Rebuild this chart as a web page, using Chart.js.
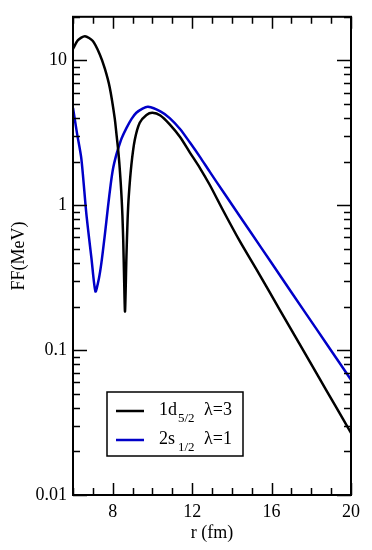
<!DOCTYPE html>
<html>
<head>
<meta charset="utf-8">
<script src="https://cdn.jsdelivr.net/npm/chart.js@4.4.1/dist/chart.umd.min.js"></script>
<style>
  html, body { margin: 0; padding: 0; background: #fff; }
  #wrap { width: 372px; height: 550px; }
</style>
</head>
<body>
<div id="wrap"><canvas id="ffChart" width="372" height="550"></canvas></div>
<script>
// r (fm) and FF (MeV)
const rD52 = [6.0, 6.25, 6.6, 7.0, 7.35, 7.6, 7.85, 8.1, 8.2, 8.27, 8.33, 8.4, 8.45, 8.49, 8.53, 8.57, 8.62, 8.69, 8.75, 8.81, 8.94, 9.11, 9.36, 9.7, 10.0, 10.4, 10.87, 11.4, 11.88, 12.4, 12.89, 13.56, 14.4, 15.37, 16.42, 17.4, 18.39, 19.2, 20.0];
const ffD52 = [12.0, 13.8, 14.7, 13.6, 11.0, 8.8, 6.5, 4.0, 3.0, 2.45, 1.98, 1.45, 1.11, 0.84, 0.57, 0.33, 0.185, 0.44, 0.80, 1.16, 1.9, 2.82, 3.71, 4.2, 4.35, 4.17, 3.62, 2.95, 2.32, 1.80, 1.38, 0.92, 0.565, 0.336, 0.189, 0.111, 0.0646, 0.0415, 0.0268];

const rS12 = [6.0, 6.2, 6.42, 6.67, 6.93, 7.13, 7.3, 7.43, 7.6, 7.76, 7.9, 8.02, 8.15, 8.27, 8.45, 8.69, 8.95, 9.19, 9.5, 9.78, 10.4, 10.87, 11.4, 11.88, 12.4, 12.89, 13.6, 14.4, 15.5, 16.47, 17.68, 18.8, 20.0];
const ffS12 = [4.7, 3.15, 2.1, 0.88, 0.43, 0.254, 0.31, 0.40, 0.62, 0.97, 1.4, 1.8, 2.15, 2.45, 2.9, 3.41, 3.95, 4.35, 4.65, 4.78, 4.45, 4.0, 3.35, 2.72, 2.15, 1.70, 1.22, 0.84, 0.504, 0.321, 0.183, 0.109, 0.0624];

const seriesNames = ["1d", "2s"];
const seriesSubs = ["5/2", "1/2"];
const seriesLambda = ["λ=3", "λ=1"];
const seriesColors = ["#000000", "#0000c8"];

const xLabels = [8, 12, 16, 20];
const yLabels = [0.01, 0.1, 1, 10];

const serif = "'Liberation Serif', 'Times New Roman', serif";

function toPoints(xs, ys) {
    return xs.map((x, i) => ({ x: x, y: ys[i] }));
}

// inward tick marks on all four sides + frame
const frameTicks = {
    id: "frameTicks",
    afterDatasetsDraw(chart) {
        const { ctx, chartArea: a, scales: { x, y } } = chart;
        ctx.save();
        ctx.strokeStyle = "#000";
        ctx.lineWidth = 1.5;
        ctx.beginPath();
        for (let v = x.min; v <= x.max; v++) {
            const px = Math.round(x.getPixelForValue(v)) + 0.5;
            const len = xLabels.includes(v) ? 12 : 7;
            ctx.moveTo(px, a.bottom); ctx.lineTo(px, a.bottom - len);
            ctx.moveTo(px, a.top); ctx.lineTo(px, a.top + len);
        }
        yLabels.forEach(d => {
            for (let k = 1; k <= 9; k++) {
                const v = k * d;
                if (v > y.max * 1.0001) break;
                const py = Math.round(y.getPixelForValue(v)) + 0.5;
                const len = k === 1 ? 14 : 7;
                ctx.moveTo(a.left, py); ctx.lineTo(a.left + len, py);
                ctx.moveTo(a.right, py); ctx.lineTo(a.right - len, py);
            }
        });
        ctx.stroke();
        ctx.lineWidth = 2;
        ctx.strokeRect(a.left, a.top, a.right - a.left, a.bottom - a.top);
        ctx.restore();
    }
};

// legend box with subscripts
const subLegend = {
    id: "subLegend",
    afterDraw(chart) {
        const { ctx, chartArea: a } = chart;
        const left = a.left + 34, top = a.bottom - 103, w = 136, h = 64;
        ctx.save();
        ctx.fillStyle = "#fff";
        ctx.fillRect(left, top, w, h);
        ctx.strokeStyle = "#000";
        ctx.lineWidth = 1.5;
        ctx.strokeRect(left, top, w, h);
        chart.data.datasets.forEach((ds, i) => {
            const rowY = top + 19 + i * 29;
            ctx.strokeStyle = ds.borderColor;
            ctx.lineWidth = 2.5;
            ctx.beginPath();
            ctx.moveTo(left + 9, rowY);
            ctx.lineTo(left + 37, rowY);
            ctx.stroke();
            ctx.fillStyle = "#000";
            ctx.textBaseline = "alphabetic";
            ctx.font = "18px " + serif;
            ctx.fillText(seriesNames[i], left + 52, rowY + 4);
            ctx.font = "13px " + serif;
            ctx.fillText(seriesSubs[i], left + 71, rowY + 10.5);
            ctx.font = "18px " + serif;
            ctx.fillText(seriesLambda[i], left + 97, rowY + 4);
        });
        ctx.restore();
    }
};

new Chart(document.getElementById("ffChart"), {
    type: "line",
    data: {
        datasets: [
            {
                label: "1d5/2 λ=3",
                data: toPoints(rD52, ffD52),
                borderColor: seriesColors[0],
                borderWidth: 2.5,
                pointRadius: 0,
                tension: 0.25,
                fill: false
            },
            {
                label: "2s1/2 λ=1",
                data: toPoints(rS12, ffS12),
                borderColor: seriesColors[1],
                borderWidth: 2.5,
                pointRadius: 0,
                tension: 0.25,
                fill: false
            }
        ]
    },
    options: {
        responsive: false,
        animation: false,
        layout: { padding: { top: 10, right: 21, left: 0, bottom: 0 } },
        plugins: {
            legend: { display: false },
            tooltip: { enabled: false }
        },
        scales: {
            x: {
                type: "linear",
                min: 6,
                max: 20,
                grid: { display: false, drawTicks: false },
                border: { display: false },
                afterBuildTicks: s => { s.ticks = xLabels.map(v => ({ value: v })); },
                afterFit: s => { s.height = 55; },
                ticks: {
                    color: "#000",
                    padding: 6,
                    maxRotation: 0,
                    font: { family: serif, size: 18 }
                },
                title: {
                    display: true,
                    text: "r (fm)",
                    color: "#000",
                    padding: { top: 0, bottom: 6 },
                    font: { family: serif, size: 18 }
                }
            },
            y: {
                type: "logarithmic",
                min: 0.01,
                max: 20,
                grid: { display: false, drawTicks: false },
                border: { display: false },
                afterBuildTicks: s => { s.ticks = yLabels.map(v => ({ value: v })); },
                afterFit: s => { s.width = 73; },
                ticks: {
                    color: "#000",
                    padding: 6,
                    font: { family: serif, size: 18 },
                    callback: v => String(v)
                },
                title: {
                    display: true,
                    text: "FF(MeV)",
                    color: "#000",
                    padding: { top: 8, bottom: 0 },
                    font: { family: serif, size: 18 }
                }
            }
        }
    },
    plugins: [frameTicks, subLegend]
});
</script>
</body>
</html>
